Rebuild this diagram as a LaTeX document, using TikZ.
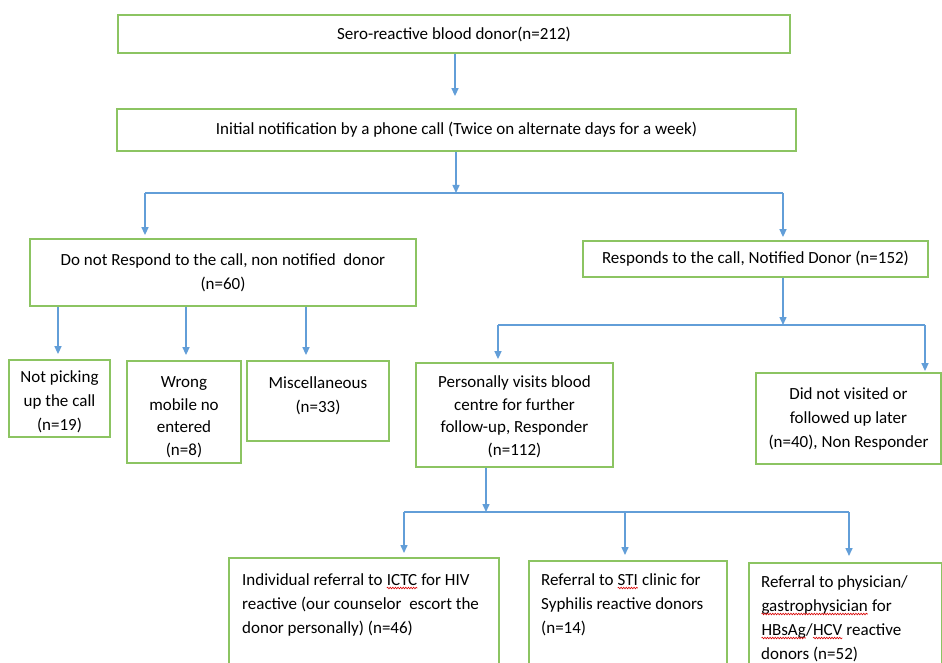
\documentclass[tikz,border=0pt]{standalone}
\usepackage{fontspec}
\setmainfont{Carlito}
\usetikzlibrary{arrows.meta,decorations.pathmorphing}
\definecolor{boxgreen}{RGB}{140,196,98}
\definecolor{arrblue}{RGB}{98,158,216}
\newcommand\redwave[1]{\tikz[baseline=(w.base)]{\node[inner sep=0pt,outer sep=0pt](w){#1};\draw[red!85!black,line width=0.6pt,decorate,decoration={snake,amplitude=0.8pt,segment length=2.6pt}] ([yshift=-3pt]w.base west) -- ([yshift=-3pt]w.base east);}}
\begin{document}
\begin{tikzpicture}[x=1pt,y=-1pt,
  font=\fontsize{17}{24}\selectfont,
  box/.style={draw=boxgreen,line width=1.8pt,rectangle,inner sep=0pt,align=center},
  txt/.style={inner sep=0pt,align=center},
  ltxt/.style={inner sep=0pt,align=left,anchor=north west},
  conn/.style={draw=arrblue,line width=1.5pt},
  arr/.style={conn,-{Triangle[length=8pt,width=7pt]}}]
\useasboundingbox (0,0) rectangle (942,663);
\clip (0,0) rectangle (942,663);
% boxes
\node[box,minimum width=672pt,minimum height=38pt] (b1) at (454,34) {Sero-reactive blood donor(n=212)};
\node[box,minimum width=679pt,minimum height=42pt] (b2) at (456.5,130) {Initial notification by a phone call (Twice on alternate days for a week)};
\node[box,minimum width=386pt,minimum height=67pt] (b3) at (223,272.5) {Do not Respond to the call, non notified\ \ donor\\(n=60)};
\node[box,minimum width=345pt,minimum height=36pt] (b4) at (755.5,259) {Responds to the call, Notified Donor (n=152)};
\node[box,minimum width=101pt,minimum height=77pt] (b5) at (59.5,398.5) {};
\node[txt] (t5) at (59.5,402) {Not picking\\up the call\\(n=19)};
\node[box,minimum width=114pt,minimum height=102pt] (b6) at (184,412) {};
\node[txt,font=\fontsize{17}{22.5}\selectfont] (t6) at (184,417) {Wrong\\mobile no\\entered\\(n=8)};
\node[box,minimum width=142pt,minimum height=80pt] (b7) at (318,401) {};
\node[txt] (t7) at (318,396) {Miscellaneous\\(n=33)};
\node[box,minimum width=197pt,minimum height=104pt] (b8) at (514.5,415) {};
\node[txt,font=\fontsize{17}{22.5}\selectfont] (t8) at (514.5,417) {Personally visits blood\\centre for further\\follow-up, Responder\\(n=112)};
\node[box,minimum width=185pt,minimum height=91pt] (b9) at (848.5,418.5) {Did not visited or\\followed up later\\(n=40), Non Responder};
\node[box,minimum width=270pt,minimum height=118pt,anchor=north west] (b10) at (228,557) {};
\node[ltxt] (t10) at (242,573) {Individual referral to \redwave{ICTC} for HIV\\reactive (our counselor\ \ escort the\\donor personally) (n=46)};
\node[box,minimum width=198pt,minimum height=116pt,anchor=north west] (b11) at (528,560) {};
\node[ltxt] (t11) at (541,573) {Referral to \redwave{STI} clinic for\\Syphilis reactive donors\\(n=14)};
\node[box,minimum width=193pt,minimum height=116pt,anchor=north west] (b12) at (748,562) {};
\node[ltxt] (t12) at (761,575) {Referral to physician/\\\redwave{gastrophysician} for\\\redwave{HBsAg}/\redwave{HCV} reactive\\donors (n=52)};
% junction coordinates
\coordinate (j1) at (456,193);
\coordinate (j1l) at (145,193);
\coordinate (j1r) at (783,193);
\coordinate (j2) at (783,325);
\coordinate (j2l) at (498,325);
\coordinate (j2r) at (925,325);
\coordinate (j3) at (486,512);
\coordinate (j3l) at (404,512);
\coordinate (j3m) at (625,512);
\coordinate (j3r) at (849,512);
% connectors
\draw[arr,shorten >=12pt] (b1.south -| 455,0) -- (455,0 |- b2.north);
\draw[arr] (b2.south -| j1) -- (j1);
\draw[conn] (j1l) -- (j1r);
\draw[arr,shorten >=3pt] (j1l) -- (j1l |- b3.north);
\draw[arr,shorten >=3pt] (j1r) -- (j1r |- b4.north);
\draw[arr] (b4.south -| j2) -- (j2);
\draw[conn] (j2l) -- (j2r);
\draw[arr,shorten >=3pt] (j2l) -- (j2l |- b8.north);
\draw[arr,shorten >=1pt] (j2r) -- (j2r |- b9.north);
\draw[arr,shorten >=5pt] (b3.south -| 58,0) -- (58,0 |- b5.north);
\draw[arr,shorten >=5pt] (b3.south -| 186,0) -- (186,0 |- b6.north);
\draw[arr,shorten >=5pt] (b3.south -| 306,0) -- (306,0 |- b7.north);
\draw[arr] (b8.south -| j3) -- (j3);
\draw[conn] (j3l) -- (j3r);
\draw[arr,shorten >=4pt] (j3l) -- (j3l |- b10.north);
\draw[arr,shorten >=5pt] (j3m) -- (j3m |- b11.north);
\draw[arr,shorten >=6pt] (j3r) -- (j3r |- b12.north);
\end{tikzpicture}
\end{document}
